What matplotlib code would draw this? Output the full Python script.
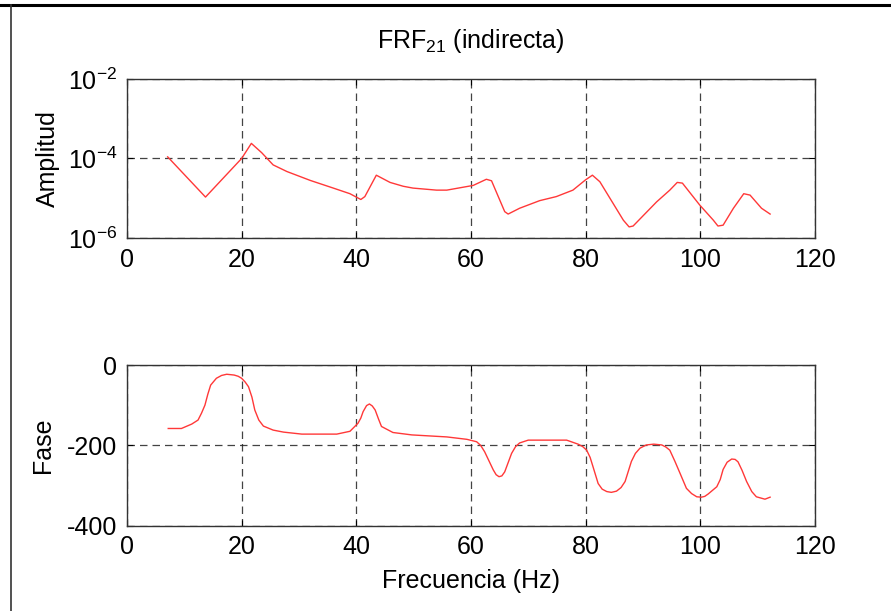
import matplotlib
matplotlib.use("Agg")
import matplotlib.pyplot as plt
from matplotlib.lines import Line2D

plt.rcParams['font.family'] = ['Liberation Sans', 'DejaVu Sans']
plt.rcParams['mathtext.fontset'] = 'custom'
plt.rcParams['mathtext.rm'] = 'Liberation Sans'
plt.rcParams['mathtext.it'] = 'Liberation Sans'
plt.rcParams['axes.unicode_minus'] = False
plt.rcParams['font.size'] = 18

# amplitude of FRF21 (indirect estimate)
f_amp = [7.1, 13.7, 20.0, 21.7, 23.5, 25.5, 27.9, 32.0, 36.0, 38.9, 40.8, 41.5,
         43.5, 45.9, 48.2, 49.9, 54.0, 55.8, 58.7, 60.4, 62.7, 63.6, 65.9, 66.5,
         68.5, 72.0, 74.9, 77.8, 80.0, 81.2, 82.5, 86.6, 87.6, 88.3, 92.4, 94.7,
         96.0, 96.9, 99.9, 102.3, 103.1, 104.0, 105.8, 107.6, 108.7, 110.7, 112.2]
amp = [1.1e-4, 1.07e-5, 1.0e-4, 2.4e-4, 1.4e-4, 6.9e-5, 4.7e-5, 2.8e-5, 1.8e-5,
       1.3e-5, 9.3e-6, 1.1e-5, 3.8e-5, 2.5e-5, 2.0e-5, 1.8e-5, 1.6e-5, 1.6e-5,
       1.9e-5, 2.1e-5, 3.0e-5, 2.75e-5, 4.6e-6, 4.0e-6, 5.6e-6, 8.7e-6, 1.1e-5,
       1.6e-5, 2.9e-5, 3.8e-5, 2.6e-5, 2.8e-6, 1.9e-6, 2.0e-6, 8.1e-6, 1.6e-5,
       2.5e-5, 2.4e-5, 6.8e-6, 2.8e-6, 2.0e-6, 2.1e-6, 5.6e-6, 1.3e-5, 1.2e-5,
       5.6e-6, 4.0e-6]

# phase in degrees
f_fase = [7.2, 9.5, 11.3, 12.4, 13.0, 13.6, 14.1, 14.6, 15.6, 16.5, 17.4, 18.7,
          19.4, 20.0, 20.6, 21.2, 21.8, 22.3, 23.0, 23.8, 25.5, 27.3, 30.5, 36.6,
          38.9, 40.3, 40.8, 41.2, 41.8, 42.3, 42.8, 43.3, 43.9, 44.4, 46.4, 49.7,
          55.8, 59.3, 61.0, 61.7, 62.4, 63.2, 63.9, 64.4, 64.9, 65.4, 65.9, 66.5,
          67.1, 67.8, 68.5, 70.0, 76.7, 78.7, 79.5, 80.2, 80.8, 81.3, 82.2, 82.9,
          83.7, 84.5, 85.4, 86.2, 86.9, 88.0, 88.7, 89.5, 90.6, 91.9, 93.3, 94.0,
          94.7, 95.6, 96.5, 97.6, 98.5, 99.4, 100.2, 100.8, 101.4, 102.9, 103.5,
          104.0, 104.7, 105.5, 106.1, 106.6, 107.3, 108.1, 109.0, 109.8, 111.3,
          112.2]
fase = [-158, -158, -147, -137, -120, -100, -73, -50, -33, -26, -23, -25,
        -28, -33, -42, -54, -80, -112, -137, -152, -162, -167, -172, -172,
        -165, -145, -132, -116, -101, -97, -102, -112, -135, -153, -168, -174,
        -179, -185, -191, -200, -216, -240, -261, -273, -278, -276, -266, -243,
        -220, -203, -194, -187, -187, -197, -203, -212, -230, -253, -295, -309,
        -315, -317, -314, -305, -290, -240, -220, -207, -199, -197, -199, -204,
        -212, -240, -270, -307, -320, -328, -329, -327, -321, -303, -285,
        -260, -242, -234, -235, -241, -262, -290, -315, -328, -334,
        -329]

x_ticks = [0, 20, 40, 60, 80, 100, 120]
amp_ticks = [1e-6, 1e-4, 1e-2]
amp_labels = [r'$\mathregular{10^{-6}}$', r'$\mathregular{10^{-4}}$', r'$\mathregular{10^{-2}}$']
fase_ticks = [-400, -200, 0]

fig = plt.figure(figsize=(8.91, 6.11), dpi=100)

# frame lines around the page
fig.add_artist(Line2D([0, 1], [1 - 5 / 611, 1 - 5 / 611], color='black', lw=2.2,
                      transform=fig.transFigure))
fig.add_artist(Line2D([11 / 891, 11 / 891], [0, 1 - 5 / 611], color='#333333', lw=1.2,
                      transform=fig.transFigure))

ax1 = fig.add_axes([0.1425, 0.6105, 0.772, 0.2602])
ax2 = fig.add_axes([0.1425, 0.1396, 0.772, 0.2630])

grid_kw = dict(color='#222222', linestyle=(0, (6, 4)), linewidth=0.9, alpha=0.85)

ax1.plot(f_amp, amp, color='#ff3838', lw=1.0)
ax1.set_yscale('log')
ax1.set_ylim(1e-6, 1e-2)
ax1.set_yticks(amp_ticks)
ax1.set_yticklabels(amp_labels)
ax1.minorticks_off()
ax1.set_ylabel('Amplitud')
ax1.yaxis.set_label_coords(-0.097, 0.5)
ax1.set_title(r'FRF$_{\mathregular{21}}$ (indirecta)', pad=22, fontsize=18)

ax2.plot(f_fase, fase, color='#ff3838', lw=1.0)
ax2.set_ylim(-400, 0)
ax2.set_yticks(fase_ticks)
ax2.set_ylabel('Fase')
ax2.yaxis.set_label_coords(-0.104, 0.5)
ax2.set_xlabel('Frecuencia (Hz)', labelpad=7)

for ax in (ax1, ax2):
    ax.set_xlim(0, 120)
    ax.set_xticks(x_ticks)
    ax.grid(True, **grid_kw)
    ax.tick_params(direction='in', length=4, width=0.8, pad=7, labelsize=18,
                   top=True, right=True)
    for s in ax.spines.values():
        s.set_linewidth(1.0)
        s.set_color('#333333')

fig.savefig('out.png', dpi=100)
